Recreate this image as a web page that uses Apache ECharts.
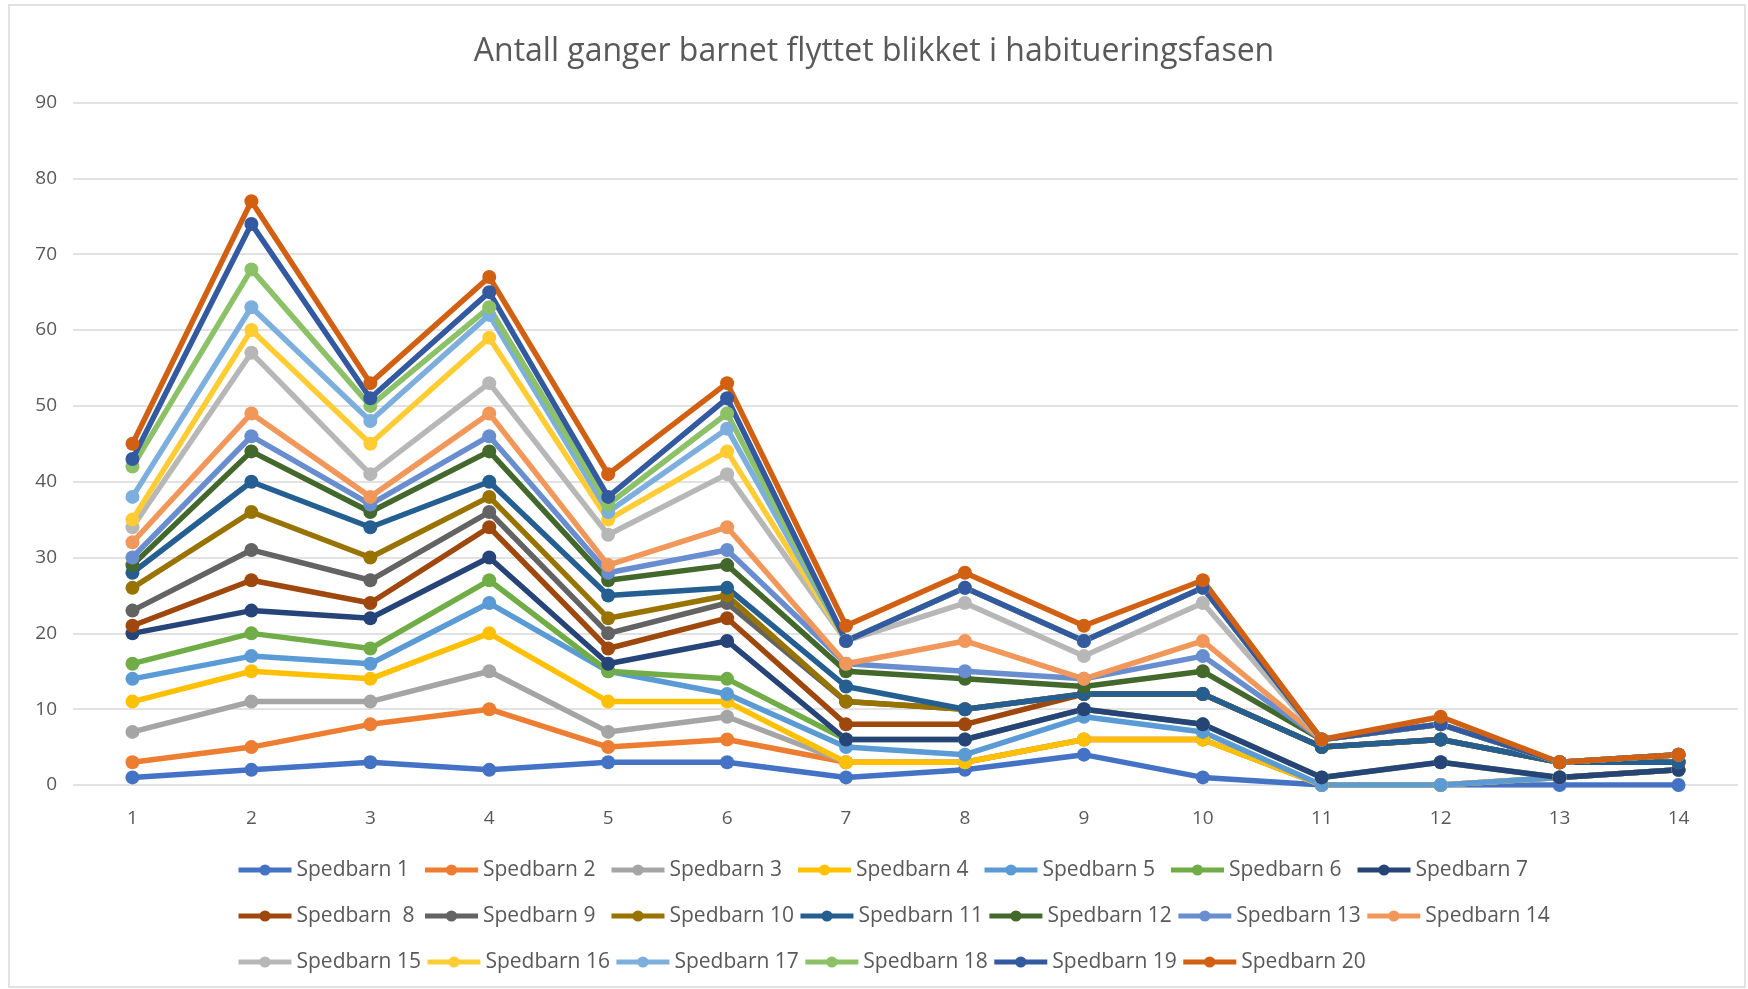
<!DOCTYPE html>
<html>
<head>
<meta charset="utf-8">
<script src="https://cdn.jsdelivr.net/npm/echarts@6/dist/echarts.min.js"></script>
<style>
html,body{margin:0;padding:0;background:#fff;}
#chart_main{width:1748px;height:989px;}
</style>
</head>
<body>
<div id="chart_main"></div>
<script>
// x categories (measurement number)
var categories = ['1','2','3','4','5','6','7','8','9','10','11','12','13','14'];
var yTicks = [0,10,20,30,40,50,60,70,80,90];

// each child's own count per point (the chart stacks them)
var spedbarn1  = [1,2,3,2,3,3,1,2,4,1,0,0,0,0];
var spedbarn2  = [2,3,5,8,2,3,2,1,2,5,0,0,1,2];
var spedbarn3  = [4,6,3,5,2,3,0,0,0,0,0,0,0,0];
var spedbarn4  = [4,4,3,5,4,2,0,0,0,0,0,0,0,0];
var spedbarn5  = [3,2,2,4,4,1,2,1,3,1,0,0,0,0];
var spedbarn6  = [2,3,2,3,0,2,1,2,1,1,1,3,0,0];
var spedbarn7  = [4,3,4,3,1,5,0,0,0,0,0,0,0,0];
var spedbarn8  = [1,4,2,4,2,3,2,2,2,4,4,3,2,1];
var spedbarn9  = [2,4,3,2,2,2,3,2,0,0,0,0,0,0];
var spedbarn10 = [3,5,3,2,2,1,0,0,0,0,0,0,0,0];
var spedbarn11 = [2,4,4,2,3,1,2,0,0,0,0,0,0,0];
var spedbarn12 = [1,4,2,4,2,3,2,4,1,3,1,2,0,1];
var spedbarn13 = [1,2,1,2,1,2,1,1,1,2,0,0,0,0];
var spedbarn14 = [2,3,1,3,1,3,0,4,0,2,0,0,0,0];
var spedbarn15 = [2,8,3,4,4,7,3,5,3,5,0,0,0,0];
var spedbarn16 = [1,3,4,6,2,3,0,2,2,2,0,0,0,0];
var spedbarn17 = [3,3,3,3,1,3,0,0,0,0,0,0,0,0];
var spedbarn18 = [4,5,2,1,1,2,0,0,0,0,0,0,0,0];
var spedbarn19 = [1,6,1,2,1,2,0,0,0,0,0,0,0,0];
var spedbarn20 = [2,3,2,2,3,2,2,2,2,1,0,1,0,0];

var names = ['Spedbarn 1','Spedbarn 2','Spedbarn 3','Spedbarn 4','Spedbarn 5','Spedbarn 6','Spedbarn 7',
	'Spedbarn  8','Spedbarn 9','Spedbarn 10','Spedbarn 11','Spedbarn 12','Spedbarn 13','Spedbarn 14',
	'Spedbarn 15','Spedbarn 16','Spedbarn 17','Spedbarn 18','Spedbarn 19','Spedbarn 20'];
var values = [spedbarn1,spedbarn2,spedbarn3,spedbarn4,spedbarn5,spedbarn6,spedbarn7,spedbarn8,spedbarn9,spedbarn10,
	spedbarn11,spedbarn12,spedbarn13,spedbarn14,spedbarn15,spedbarn16,spedbarn17,spedbarn18,spedbarn19,spedbarn20];

// office palette
var colors = ['#4472C4','#ED7D31','#A5A5A5','#FFC000','#5B9BD5','#70AD47',
	'#264478','#9E480E','#636363','#997300','#255E91','#43682B',
	'#698ED0','#F1975A','#B7B7B7','#FFCD33','#7CAFDD','#8CC168','#335AA1','#D26012'];

var font = '"Open Sans", "Noto Sans", sans-serif';

var series = [];
for(var i=0;i<names.length;i++){
	series.push({
		name:names[i],
		type:'line',
		stack:'total',
		data:values[i],
		symbol:'circle',
		symbolSize:14,
		lineStyle:{width:5.5,color:colors[i]},
		itemStyle:{color:colors[i]},
		emphasis:{disabled:true}
	});
}

var myChart = echarts.init(document.getElementById('chart_main'));
var options = {
	animation:false,
	color:colors,
	title:{
		text:'Antall ganger barnet flyttet blikket i habitueringsfasen',
		left:'center',
		top:31,
		textStyle:{fontFamily:font,fontSize:32,fontWeight:'normal',color:'#595959'}
	},
	legend:{
		data:names,
		left:231,
		top:844,
		width:1400,
		itemWidth:53,
		itemHeight:14,
		itemGap:4,
		lineStyle:{width:5},
		textStyle:{fontFamily:font,fontSize:21,color:'#595959',width:122,lineHeight:42}
	},
	grid:{
		left:73,
		right:10,
		top:102.6,
		bottom:204,
		containLabel:false
	},
	xAxis:{
		type:'category',
		data:categories,
		boundaryGap:true,
		axisLine:{show:false},
		axisTick:{show:false},
		axisLabel:{fontFamily:font,fontSize:19,color:'#595959',margin:24}
	},
	yAxis:{
		type:'value',
		min:yTicks[0],
		max:yTicks[yTicks.length-1],
		interval:10,
		axisLine:{show:false},
		axisTick:{show:false},
		axisLabel:{fontFamily:font,fontSize:19,color:'#595959',margin:16},
		splitLine:{lineStyle:{color:'#D9D9D9',width:1.5}}
	},
	graphic:[{
		type:'rect',
		shape:{x:9,y:5,width:1736,height:982},
		style:{fill:null,stroke:'#D9D9D9',lineWidth:1.5},
		silent:true
	}],
	series:series
};
myChart.setOption(options);
</script>
</body>
</html>
